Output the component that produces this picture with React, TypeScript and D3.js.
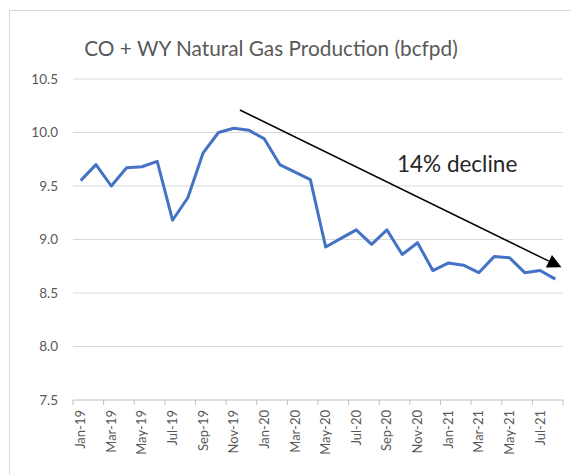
import React from "react";
import * as d3 from "d3";

const months = [
  "Jan-19","Feb-19","Mar-19","Apr-19","May-19","Jun-19","Jul-19","Aug-19","Sep-19","Oct-19","Nov-19","Dec-19",
  "Jan-20","Feb-20","Mar-20","Apr-20","May-20","Jun-20","Jul-20","Aug-20","Sep-20","Oct-20","Nov-20","Dec-20",
  "Jan-21","Feb-21","Mar-21","Apr-21","May-21","Jun-21","Jul-21","Aug-21",
];
const production = [
  9.55, 9.70, 9.50, 9.67, 9.68, 9.73, 9.18, 9.39, 9.81, 10.00, 10.04, 10.02,
  9.94, 9.70, 9.63, 9.56, 8.93, 9.01, 9.09, 8.955, 9.09, 8.86, 8.97, 8.71,
  8.78, 8.76, 8.69, 8.84, 8.83, 8.69, 8.71, 8.63,
];
const yTicks = [7.5, 8.0, 8.5, 9.0, 9.5, 10.0, 10.5];
const title = "CO + WY Natural Gas Production (bcfpd)";
const annotation = "14% decline";
// arrow endpoints in data terms: [category index (fractional), value]
const arrowStart: [number, number] = [10.4, 10.21];
const arrowEnd: [number, number] = [31.4, 8.74];

export default function App() {
  const W = 571, H = 475;
  const left = 73, right = 563, top = 79, bottom = 400;
  const x = d3.scaleBand<string>().domain(months).range([left, right]).padding(0);
  const xc = (i: number) => left + (i + 0.5) * x.bandwidth();
  const y = d3.scaleLinear().domain([7.5, 10.5]).range([bottom, top]);
  const line = d3.line<number>().x((_, i) => xc(i)).y((d) => y(d));
  const font = "Lato, 'Open Sans', sans-serif";
  const gray = "#595959";

  const ax0 = xc(arrowStart[0]), ay0 = y(arrowStart[1]);
  const ax1 = xc(arrowEnd[0]), ay1 = y(arrowEnd[1]);
  const ang = Math.atan2(ay1 - ay0, ax1 - ax0);
  const hl = 14, hw = 7;
  const bx = ax1 - hl * Math.cos(ang), by = ay1 - hl * Math.sin(ang);
  const head = [
    [ax1, ay1],
    [bx + hw * Math.sin(ang), by - hw * Math.cos(ang)],
    [bx - hw * Math.sin(ang), by + hw * Math.cos(ang)],
  ];

  return (
    <svg width={W} height={H} style={{ position: "absolute", left: 0, top: 0, display: "block" }}>
      <rect x={0} y={0} width={W} height={H} fill="#fff" />
      <rect x={9.5} y={10.5} width={W + 10} height={H + 10} fill="none" stroke="#d9d9d9" strokeWidth={1} />
      <text x={271} y={56} textAnchor="middle" fontFamily={font} fontSize={20.8} fill={gray}>{title}</text>
      {yTicks.map((t) => (
        <g key={t}>
          {t !== 7.5 && (
            <line x1={left} x2={right} y1={y(t)} y2={y(t)} stroke="#d9d9d9" strokeWidth={1.2} />
          )}
          <text x={58} y={y(t)} dy="0.35em" textAnchor="end" fontFamily={font} fontSize={13.5} fill={gray}>
            {t.toFixed(1)}
          </text>
        </g>
      ))}
      <line x1={left} x2={right} y1={bottom} y2={bottom} stroke="#bfbfbf" strokeWidth={1.2} />
      {d3.range(0, months.length + 1, 2).map((i) => {
        const tx = left + i * x.bandwidth();
        return <line key={"t" + i} x1={tx} x2={tx} y1={bottom} y2={bottom + 5} stroke="#bfbfbf" strokeWidth={1} />;
      })}
      {months.map((m, i) =>
        i % 2 === 0 ? (
          <text
            key={m}
            transform={`translate(${xc(i) + 4.5},${bottom + 10}) rotate(-90)`}
            textAnchor="end"
            fontFamily={font}
            fontSize={13}
            fill={gray}
          >
            {m}
          </text>
        ) : null
      )}
      <path d={line(production) || ""} fill="none" stroke="#4472C4" strokeWidth={3} strokeLinejoin="round" />
      <line x1={ax0} y1={ay0} x2={bx} y2={by} stroke="#000" strokeWidth={1.5} />
      <polygon points={head.map((p) => p.join(",")).join(" ")} fill="#000" />
      <text x={397} y={172} fontFamily={font} fontSize={22.5} fill="#262626">{annotation}</text>
    </svg>
  );
}
